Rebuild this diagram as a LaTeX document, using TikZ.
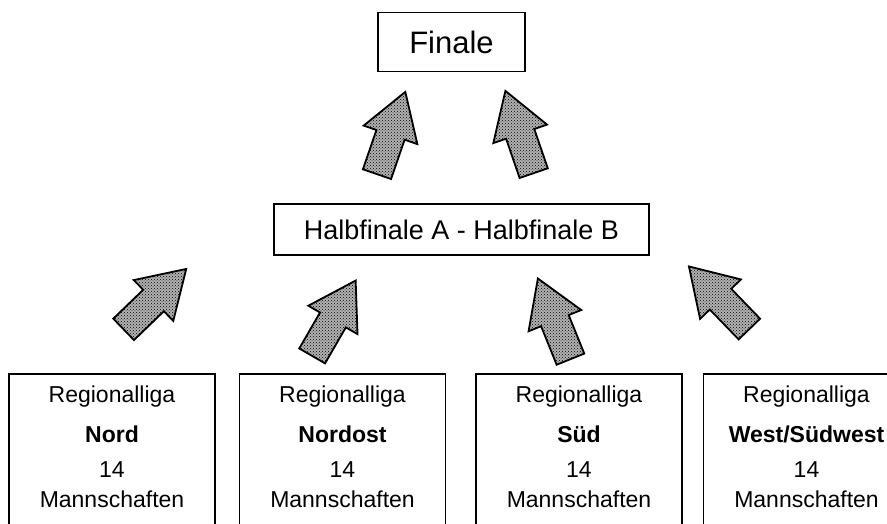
\documentclass[tikz,border=0pt]{standalone}
\usepackage{fontspec}
\setmainfont{Liberation Sans}
\usepackage{tikz}
\usetikzlibrary{positioning,shapes.arrows,patterns}

\begin{document}
\begin{tikzpicture}[
  x=1pt, y=-1pt,
  box/.style={draw, rectangle, line width=1.5pt, inner sep=0pt, align=center},
  ligabox/.style={draw, rectangle, line width=1.5pt, minimum width=206pt, inner xsep=0pt, inner ysep=12.5pt, text depth=30pt, align=center, font=\fontsize{23}{30}\selectfont},
  uparrow/.style={single arrow, draw=black, line width=1.8pt, preaction={fill=gray!60}, pattern=crosshatch dots, minimum height=87pt, inner xsep=0pt, inner ysep=14pt, single arrow head extend=13.5pt, single arrow tip angle=64, anchor=tail}
]
\useasboundingbox (0,0) rectangle (887,524);
\clip (0,0) rectangle (887,524);

\node[box, minimum width=147pt, minimum height=59pt, font=\fontsize{31}{36}\selectfont] (n1) at (451.5,42.2) {Finale};
\node[box, minimum width=375pt, minimum height=51pt, font=\fontsize{27}{32}\selectfont, below=131pt of n1, xshift=10pt] (n2) {Halbfinale A - Halbfinale B};

\node[ligabox, anchor=north] (n3) at (112,373) {Regionalliga\\[10pt]\textbf{Nord}\\[5pt]14\\Mannschaften};
\node[ligabox, right=23pt of n3] (n4) {Regionalliga\\[10pt]\textbf{Nordost}\\[5pt]14\\Mannschaften};
\node[ligabox, right=29pt of n4] (n5) {Regionalliga\\[10pt]\textbf{Süd}\\[5pt]14\\Mannschaften};
\node[ligabox, right=20pt of n5] (n6) {Regionalliga\\[10pt]\textbf{West/Südwest}\\[5pt]14\\Mannschaften};

% block arrows
\node[uparrow, rotate=71] (a1) at (376.7,175) {};
\node[uparrow, rotate=109] (a2) at (534,174) {};
\node[uparrow, rotate=44] (a3) at (123,330) {};
\node[uparrow, rotate=60] (a4) at (311.7,356.7) {};
\node[uparrow, rotate=112] (a5) at (570.8,360) {};
\node[uparrow, rotate=134] (a6) at (750,329.7) {};
\end{tikzpicture}
\end{document}
